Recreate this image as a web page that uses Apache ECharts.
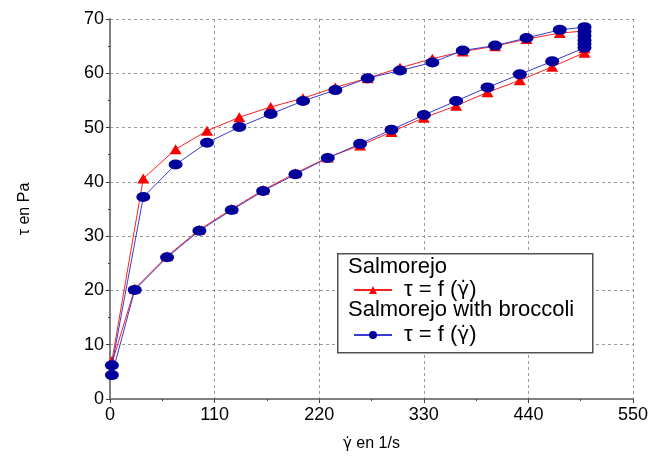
<!DOCTYPE html>
<html>
<head>
<meta charset="utf-8">
<script src="https://cdn.jsdelivr.net/npm/echarts@6/dist/echarts.min.js"></script>
<style>html,body{margin:0;padding:0;background:#fff;}#c{width:664px;height:457px;}</style>
</head>
<body>
<div id="c"></div>
<script>
var xTicks = [0, 110, 220, 330, 440, 550];
var yTicks = [0, 10, 20, 30, 40, 50, 60, 70];

var redX = [2, 35, 69, 102, 136, 169, 203, 237, 271, 305, 339, 371, 405, 438, 473, 499, 499, 499, 499, 499, 499, 465, 431, 397, 364, 330, 296, 263, 229, 195, 161, 128, 94, 60, 26, 2];
var redY = [7.0, 40.6, 46.0, 49.4, 51.9, 53.8, 55.4, 57.4, 59.1, 61.0, 62.7, 64.0, 65.0, 66.3, 67.4, 67.8, 67.0, 66.2, 65.4, 64.6, 63.8, 61.2, 58.7, 56.5, 54.0, 51.8, 49.2, 46.7, 44.5, 41.6, 38.5, 35.0, 31.2, 26.3, 20.3, 6.6];

var blueX = [2, 35, 69, 102, 136, 169, 203, 237, 271, 305, 339, 371, 405, 438, 473, 499, 499, 499, 499, 499, 499, 465, 431, 397, 364, 330, 296, 263, 229, 195, 161, 128, 94, 60, 26, 2];
var blueY = [6.2, 37.2, 43.2, 47.2, 50.1, 52.5, 54.9, 56.9, 59.1, 60.5, 62.0, 64.2, 65.1, 66.5, 68.0, 68.5, 67.7, 66.9, 66.1, 65.4, 64.7, 62.2, 59.8, 57.4, 54.9, 52.3, 49.6, 47.0, 44.4, 41.4, 38.3, 34.8, 31.0, 26.1, 20.1, 4.4];

var seriesNames = ['Salmorejo', 'Salmorejo with broccoli'];

function pairs(xs, ys) { return xs.map(function (x, i) { return [x, ys[i]]; }); }

var FONT = '"Liberation Sans", Arial, sans-serif';
var GFONT = '"DejaVu Sans", sans-serif';
var chart = echarts.init(document.getElementById('c'), null, {renderer: 'canvas'});
chart.setOption({
  animation: false,
  backgroundColor: '#fff',
  grid: {left: 110, right: 31, top: 19, bottom: 54, containLabel: false},
  xAxis: {
    type: 'value', min: xTicks[0], max: xTicks[xTicks.length - 1], interval: 110,
    name: '{g|γ\u0307} en 1/s', nameLocation: 'middle', nameGap: 37,
    nameTextStyle: {fontFamily: FONT, fontSize: 16, color: '#000',
      rich: {g: {fontFamily: GFONT, fontSize: 15, color: '#000'}}},
    axisLine: {show: true, lineStyle: {color: '#808080', width: 2}},
    axisTick: {show: true, inside: false, length: 4, lineStyle: {color: '#404040'}},
    minorTick: {show: true, splitNumber: 2, length: 2, lineStyle: {color: '#404040'}},
    axisLabel: {fontFamily: FONT, fontSize: 18, color: '#000', margin: 7},
    splitLine: {show: true, lineStyle: {color: '#999', type: [3, 3], width: 1}}
  },
  yAxis: {
    type: 'value', min: yTicks[0], max: yTicks[yTicks.length - 1], interval: 10,
    name: 'τ en Pa', nameLocation: 'middle', nameGap: 77, nameRotate: 90,
    nameTextStyle: {fontFamily: FONT, fontSize: 16, color: '#000'},
    axisLine: {show: true, lineStyle: {color: '#808080', width: 2}},
    axisTick: {show: true, inside: false, length: 4, lineStyle: {color: '#404040'}},
    minorTick: {show: true, splitNumber: 2, length: 2, lineStyle: {color: '#404040'}},
    axisLabel: {fontFamily: FONT, fontSize: 18, color: '#000', margin: 6},
    splitLine: {show: true, lineStyle: {color: '#999', type: [3, 3], width: 1}}
  },
  legend: {
    left: 348, top: 274, orient: 'vertical', itemGap: 23,
    itemWidth: 38, itemHeight: 10, z: 10,
    data: seriesNames,
    formatter: function () { return 'τ = f ({g|γ\u0307})'; },
    textStyle: {fontFamily: FONT, fontSize: 22, color: '#000', padding: [0, 0, 0, 7],
      rich: {g: {fontFamily: GFONT, fontSize: 20, color: '#000'}}},
    selectedMode: false
  },
  graphic: [
    {type: 'rect', left: 337, top: 253, shape: {width: 255, height: 99},
     style: {fill: '#fff', stroke: '#505050', lineWidth: 1.5}, z: 5},
    {type: 'text', left: 348, top: 256, z: 20,
     style: {text: seriesNames[0], font: '22px ' + FONT, fill: '#000'}},
    {type: 'text', left: 348, top: 299, z: 20,
     style: {text: seriesNames[1], font: '22px ' + FONT, fill: '#000'}}
  ],
  series: [
    {
      name: seriesNames[0], type: 'line', data: pairs(redX, redY),
      symbol: 'triangle', symbolSize: [12, 10], showAllSymbol: true,
      lineStyle: {color: '#ff2020', width: 1},
      itemStyle: {color: '#ff0000'}, z: 2
    },
    {
      name: seriesNames[1], type: 'line', data: pairs(blueX, blueY),
      symbol: 'circle', symbolSize: [14, 10], showAllSymbol: true,
      lineStyle: {color: '#3a3ad0', width: 1},
      itemStyle: {color: '#00009a'}, z: 3
    }
  ]
});
</script>
</body>
</html>
